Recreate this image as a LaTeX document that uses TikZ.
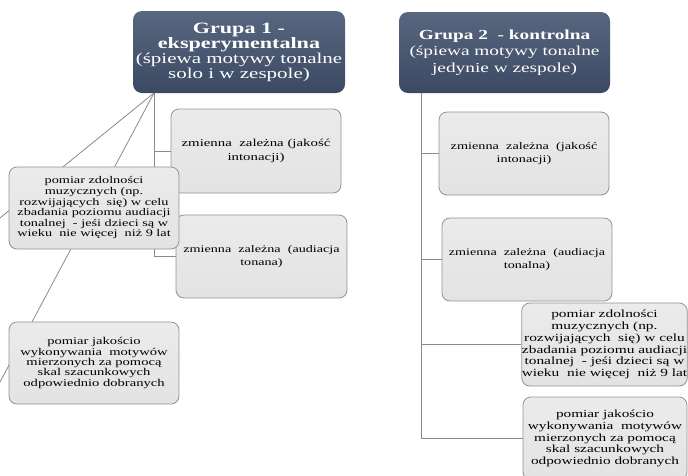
\documentclass[tikz,border=0pt]{standalone}
\usepackage{fontspec}
\setmainfont{Liberation Serif}[FakeStretch=1.4]
\usetikzlibrary{backgrounds}
\definecolor{hdrtop}{HTML}{58667F}
\definecolor{hdrbot}{HTML}{3B4963}
\definecolor{boxtop}{HTML}{EBEBEB}
\definecolor{boxbot}{HTML}{E3E3E3}
\definecolor{boxline}{HTML}{939393}
\definecolor{conn}{HTML}{8A8A8A}
\tikzset{
  hdr/.style={rounded corners=9pt, top color=hdrtop, bottom color=hdrbot, draw=none,
    text=white, align=center, inner sep=0pt},
  sbox/.style={rounded corners=8pt, top color=boxtop, bottom color=boxbot, draw=boxline, line width=0.8pt,
    align=center, inner sep=0pt, text=black},
  conn/.style={draw=conn, line width=0.8pt}
}
\newcommand{\fsz}[2]{\fontsize{#1}{#2}\selectfont}
\newcommand{\hbf}[1]{{\fontsize{15.8}{15}\selectfont\bfseries #1}}
\begin{document}
\begin{tikzpicture}[x=1pt,y=-1pt]
\useasboundingbox (0,0) rectangle (688,475);
\clip (0,0) rectangle (688,475);
% headers
\node[hdr, minimum width=212pt, minimum height=82pt, font=\fsz{15}{15}] (h1) at (239,52)
  {\hbf{Grupa 1 -}\\\hbf{eksperymentalna}\\(śpiewa motywy tonalne\\solo i w zespole)};
\node[hdr, minimum width=211pt, minimum height=81pt, font=\fsz{13.8}{16.5}] (h2) at (504.5,52.5)
  {\textbf{Grupa 2 \ - kontrolna}\\(śpiewa motywy tonalne\\jedynie w zespole)};
% left group boxes
\node[sbox, minimum width=170pt, minimum height=84pt, font=\fsz{10.6}{13.3}] (a) at (256,151)
  {zmienna \ zależna (jakość\\intonacji)};
\node[sbox, minimum width=171pt, minimum height=83pt, font=\fsz{10.1}{12.5}] (b) at (261.5,256.5)
  {zmienna \ zależna \ (audiacja\\tonana)};
\node[sbox, minimum width=170pt, minimum height=82pt, font=\fsz{10.2}{10.6}] (c) at (94,208)
  {pomiar zdolności\\muzycznych (np.\\rozwijających \ się) w celu\\zbadania poziomu audiacji\\tonalnej \ - jeśi dzieci są w\\wieku \ nie więcej \ niż 9 lat};
\node[sbox, minimum width=170pt, minimum height=82pt, font=\fsz{10.4}{10.3}] (d) at (94,363)
  {pomiar jakościo\\wykonywania \ motywów\\mierzonych za pomocą\\skal szacunkowych\\odpowiednio dobranych};
% right group boxes
\node[sbox, minimum width=170pt, minimum height=83pt, font=\fsz{10.2}{12.7}] (e) at (524,153.5)
  {zmienna \ zależna \ (jakość\\intonacji)};
\node[sbox, minimum width=170pt, minimum height=83pt, font=\fsz{10.1}{12.7}] (f) at (527,259.5)
  {zmienna \ zależna \ (audiacja\\tonalna)};
\node[sbox, minimum width=165pt, minimum height=83pt, font=\fsz{11}{11.8}] (g) at (604.5,344.5)
  {pomiar zdolności\\muzycznych (np.\\rozwijających \ się) w celu\\zbadania poziomu audiacji\\tonalnej \ - jeśi dzieci są w\\wieku \ nie więcej \ niż 9 lat};
\node[sbox, minimum width=164pt, minimum height=83pt, font=\fsz{10.9}{11.8}] (hh) at (605,438.5)
  {pomiar jakościo\\wykonywania \ motywów\\mierzonych za pomocą\\skal szacunkowych\\odpowiednio dobranych};
% connector anchors
\coordinate (h1b) at (154,93);
\coordinate (h2b) at (421,93);
\coordinate (l1end) at (0,218);
\coordinate (l2end) at (0,382);
\begin{scope}[on background layer]
  \draw[conn] (h1b) |- (b.west);
  \draw[conn] (h1b |- a.west) -- (a.west);
  \draw[conn] (h1b) -- (l1end);
  \draw[conn] (h1b) -- (l2end);
  \draw[conn] (h2b) |- (hh.west);
  \draw[conn] (h2b |- e.west) -- (e.west);
  \draw[conn] (h2b |- f.west) -- (f.west);
  \draw[conn] (h2b |- g.west) -- (g.west);
\end{scope}
\end{tikzpicture}
\end{document}
